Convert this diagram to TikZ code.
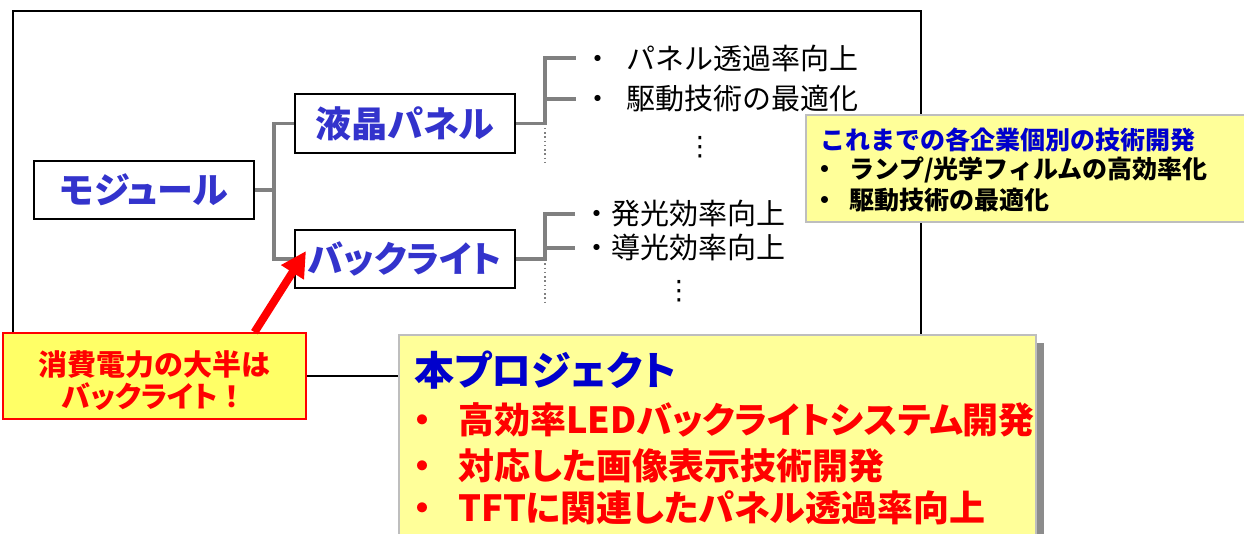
\documentclass[tikz,border=0pt]{standalone}
\usepackage{fontspec}
\setmainfont{Noto Sans CJK JP}
\newfontfamily\jpp{Noto Sans CJK JP}[CharacterWidth=AlternateProportional]
\newfontfamily\dvs{DejaVu Sans}
\usetikzlibrary{arrows.meta,shadows}
\definecolor{boxblue}{RGB}{51,51,204}
\definecolor{titleblue}{RGB}{0,0,204}
\definecolor{conngray}{RGB}{128,128,128}
\definecolor{paleyellow}{RGB}{255,255,153}
\definecolor{noteyellow}{RGB}{255,255,102}
\definecolor{bordergray}{RGB}{190,190,190}
\definecolor{shadowgray}{RGB}{140,140,140}
\definecolor{myred}{RGB}{255,0,0}
\tikzset{
  box/.style={draw=black, line width=1.5pt, fill=white, minimum width=165pt,
    minimum height=44pt, inner sep=0pt, text=boxblue,
    font=\jpp\bfseries\fontsize{27pt}{30pt}\selectfont},
  conn/.style={draw=conngray, line width=2.3pt},
  dotc/.style={draw=conngray, line width=1.2pt, dotted},
  item/.style={anchor=west, inner sep=0pt, font=\fontsize{21.75pt}{26pt}\selectfont},
  vdots/.style={inner sep=0pt, text=black, font=\dvs\fontsize{20pt}{20pt}\selectfont},
  ybox/.style={draw=bordergray, line width=1.5pt, fill=paleyellow, inner sep=0pt},
  ytext/.style={anchor=west, inner sep=0pt, font=\bfseries\fontsize{18.75pt}{22pt}\selectfont},
  notebox/.style={draw=myred, line width=1.2pt, fill=noteyellow, inner sep=0pt,
    minimum width=227pt, minimum height=64.5pt},
  notetext/.style={align=center, inner sep=0pt, text=myred,
    font=\jpp\bfseries\fontsize{21.75pt}{24pt}\selectfont},
  projbox/.style={draw=bordergray, line width=1.5pt, fill=paleyellow, inner sep=0pt,
    minimum width=477.75pt, minimum height=168.75pt,
    drop shadow={shadow xshift=6pt, shadow yshift=-6pt, fill=shadowgray, opacity=1}},
  ptitle/.style={anchor=west, inner sep=0pt, text=titleblue,
    font=\jpp\bfseries\fontsize{30pt}{34pt}\selectfont},
  pitem/.style={anchor=west, inner sep=0pt, text=myred,
    font=\bfseries\fontsize{27pt}{30pt}\selectfont},
  redarrow/.style={draw=myred, line width=6pt, -{Triangle[length=19pt,width=19pt]}}
}
\begin{document}
\begin{tikzpicture}[x=0.75pt,y=-0.75pt]
\useasboundingbox (0,0) rectangle (1244,534);
\clip (0,0) rectangle (1244,534);
% outer frame
\draw[black, line width=1.1pt] (13,11) rectangle (921,376);
% tree
\node[box] (mod) at (144,190) {モジュール};
\node[box] (lcd) at (405,123.5) {液晶パネル};
\node[box] (bl) at (405,259) {バックライト};
\coordinate (j1) at (274,190);
\draw[conn] (mod.east) -- (j1);
\draw[conn] (lcd.west) -| (j1) |- (bl.west);
% lcd branch
\node[item] (t1) at (583,58) {・\hspace{10.5pt}パネル透過率向上};
\node[item] (t2) at (583,99) {・\hspace{10.5pt}駆動技術の最適化};
\node[vdots] (v1) at (700,147) {⋮};
\coordinate (j2) at (545,123.5);
\coordinate (d1) at (545,166);
\draw[conn] (lcd.east) -- (j2) |- ([xshift=-5pt]t1.west);
\draw[conn] (j2 |- t2.west) -- ([xshift=-5pt]t2.west);
\draw[dotc] (j2) -- (d1);
% backlight branch
\node[item] (t3) at (582,214) {・発光効率向上};
\node[item] (t4) at (582,248) {・導光効率向上};
\node[vdots] (v2) at (679,291) {⋮};
\coordinate (j3) at (545,259);
\coordinate (d2) at (545,302);
\draw[conn] (bl.east) -- (j3) |- ([xshift=-5pt]t3.west);
\draw[conn] (j3 |- t4.west) -- ([xshift=-5pt]t4.west);
\draw[dotc] (j3) -- (d2);
% previous development box
\node[ybox, minimum width=330pt, minimum height=80.25pt] (prev) at (1026,168.5) {};
\node[ytext, text=titleblue] (p1) at (820,140) {これまでの各企業個別の技術開発};
\node[ytext] (p2) at (812,170) {・\hspace{9.5pt}ランプ/光学フィルムの高効率化};
\node[ytext] (p3) at (812,200) {・\hspace{9.5pt}駆動技術の最適化};
% note box
\node[notebox] (note) at (154.5,376) {};
\node[notetext] (notet) at (154.5,381) {消費電力の大半は\\バックライト{\rmfamily\bfseries ！}};
\coordinate (tip) at (306,251);
\draw[redarrow] ([xshift=75pt]note.north) -- (tip);
% project box
\node[projbox] (proj) at (717.5,447.5) {};
\node[ptitle] (pt) at (414,370) {本プロジェクト};
\node[pitem] (i1) at (404,420) {・\hspace{13.5pt}{\jpp 高効率LEDバックライトシステム開発}};
\node[pitem] (i2) at (404,466) {・\hspace{13.5pt}{\jpp 対応した画像表示技術開発}};
\node[pitem] (i3) at (404,508) {・\hspace{13.5pt}{\jpp TFTに関連したパネル透過率向上}};
\end{tikzpicture}
\end{document}
